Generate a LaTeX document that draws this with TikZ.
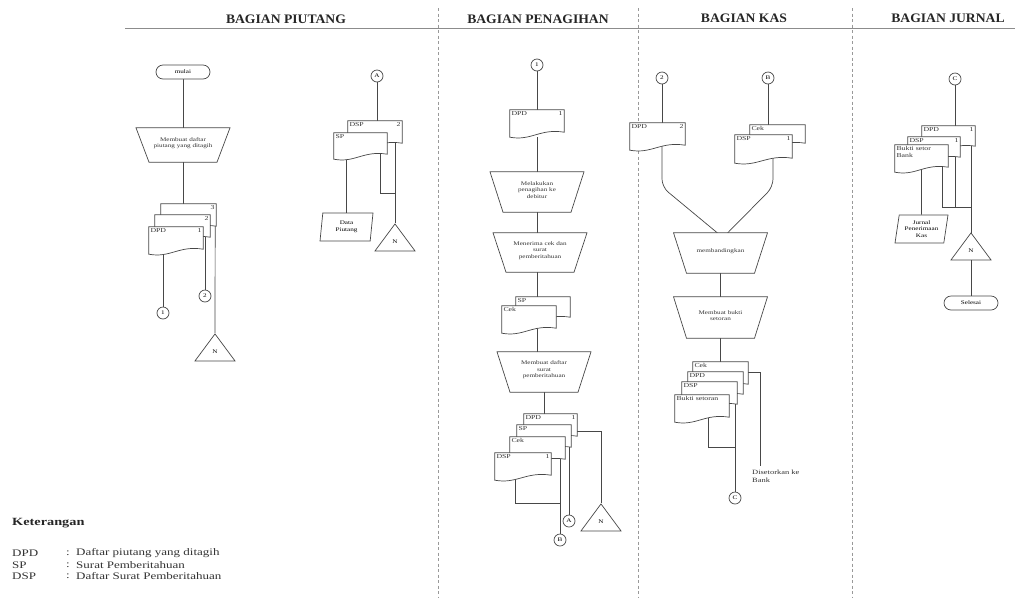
\documentclass[tikz,border=0pt]{standalone}
\usepackage{fontspec}
\setmainfont{Liberation Serif}[FakeStretch=1.3]
\newfontfamily\judulfont{Liberation Serif}[FakeStretch=1.05]
\usetikzlibrary{shapes.geometric}
\pgfdeclarelayer{bg}
\pgfsetlayers{bg,main}

\newcommand{\tf}{\fontsize{5.5}{6.5}\selectfont}
\newcommand{\df}{\fontsize{6}{6.5}\selectfont}

\tikzset{
  ln/.style={draw=black!72, line width=0.7pt},
  sep/.style={draw=black!40, dash pattern=on 3pt off 2.5pt, line width=0.6pt},
  judul/.style={font=\judulfont\bfseries\fontsize{13}{14}\selectfont, text=black!85},
  terminal/.style={ln, fill=white, rounded corners=7pt, minimum width=54, minimum height=14, inner sep=0pt, font=\tf},
  opbox/.style={draw=none, inner sep=0pt, minimum width=94},
  optext/.style={inner sep=0pt, align=center, font=\tf, text=black!80},
  data/.style={ln, fill=white, trapezium, trapezium left angle=76, trapezium right angle=104,
    trapezium stretches body, minimum width=53, minimum height=28, inner sep=0pt, align=center, font=\tf},
  arsip/.style={ln, fill=white, isosceles triangle, isosceles triangle stretches, shape border rotate=90,
    minimum width=40, minimum height=27, inner sep=0pt, font=\tf},
  konektor/.style={ln, fill=white, circle, minimum size=12, inner sep=0pt, font=\tf},
  docbox/.style={draw=none, inner sep=0pt},
  doctext/.style={inner sep=1.5pt, font=\df, align=left, text=black!80},
  ket/.style={anchor=west, inner sep=0pt, font=\fontsize{10}{11}\selectfont, text=black!80}
}

% dokumen: nama, posisi, lebar, tinggi, label, nomor
\newcommand{\dok}[6]{%
  \node[docbox, minimum width=#3, minimum height=#4] (#1) at (#2) {};
  \draw[ln, fill=white] (#1.south west) -- (#1.north west) -- (#1.north east) -- ([yshift=5]#1.south east)
    .. controls ([xshift=-0.45*#3, yshift=9]#1.south east) and ([xshift=0.4*#3, yshift=-4]#1.south west) .. (#1.south west) -- cycle;
  \node[doctext, anchor=north west] at (#1.north west) {#5};
  \node[doctext, anchor=north east] at (#1.north east) {#6};
}
% proses manual: nama, posisi, tinggi, teks
\newcommand{\operasi}[4]{%
  \node[opbox, minimum height=#3] (#1) at (#2) {};
  \draw[ln, fill=white] ([xshift=-47]#1.north) -- ([xshift=47]#1.north) -- ([xshift=34]#1.south) -- ([xshift=-34]#1.south) -- cycle;
  \node[optext] at ([yshift=2]#1.center) {#4};
}

\begin{document}
\begin{tikzpicture}[x=1pt, y=-1pt]
  \useasboundingbox (0,0) rectangle (1015,598);
  % Judul kolom
  \node[judul] (hpiutang) at (286,19) {BAGIAN PIUTANG};
  \node[judul] (htagih) at (538,19) {BAGIAN PENAGIHAN};
  \node[judul] (hkas) at (744,18) {BAGIAN KAS};
  \node[judul] (hjurnal) at (948,18) {BAGIAN JURNAL};
  \draw[draw=black!45, line width=0.7pt] (125,28) -- (1015,28);
  % Garis pemisah
  \foreach \gx in {438,638,852}
    \draw[sep] (\gx,8) -- (\gx,598);

  % Bagian piutang
  \node[terminal] (mulai) at (183,72) {mulai};
  \operasi{buatdpd}{183,145}{34}{Membuat daftar\\piutang yang ditagih}
  \dok{dpd3}{188.5,217.5}{55}{27}{}{3}
  \dok{dpd2}{182.5,228.5}{55}{27}{}{2}
  \dok{dpd1}{176,240.5}{54}{27}{DPD}{1}
  \node[konektor] (k1) at (163,313) {1};
  \node[konektor] (k2) at (205,296) {2};
  \node[arsip, anchor=apex] (arsip1) at (215,333) {N};
  \node[konektor] (kA) at (377,76) {A};
  \dok{dsp2}{375,134.5}{54}{27}{DSP}{2}
  \dok{sp1}{360.5,146}{53}{26}{SP}{}
  \node[data] (datapiutang) at (346.5,227) {Data\\Piutang};
  \node[arsip, anchor=apex] (arsip2) at (395,223) {N};

  % Bagian penagihan
  \node[konektor] (k1tagih) at (537,65) {1};
  \dok{dpdtagih}{537,123.5}{54}{27}{DPD}{1}
  \operasi{tagih}{537,192}{40}{Melakukan\\penagihan ke\\debitur}
  \operasi{terima}{540,252.5}{39}{Menerima cek dan\\surat\\pemberitahuan}
  \dok{spterima}{543,309.5}{54}{25}{SP}{}
  \dok{cekterima}{529,319.5}{54}{27}{Cek}{}
  \operasi{buatdsp}{544,372}{40}{Membuat daftar\\surat\\pemberitahuan}
  \dok{dpdp}{550.5,427.5}{53}{27}{DPD}{1}
  \dok{spp}{544,438.5}{54}{27}{SP}{}
  \dok{cekp}{537.5,450.5}{55}{27}{Cek}{}
  \dok{dspp}{523,466.5}{56}{27}{DSP}{1}
  \node[arsip, anchor=apex] (arsip3) at (601,503) {N};
  \node[konektor] (kA2) at (569,521) {A};
  \node[konektor] (kB) at (560,540) {B};

  % Bagian kas
  \node[konektor] (k2kas) at (662,78) {2};
  \node[konektor] (kBkas) at (768,78) {B};
  \dok{dpdkas}{657.5,136.5}{55}{27}{DPD}{2}
  \dok{cekkas}{777.5,136.5}{55}{23}{Cek}{}
  \dok{dspkas}{763.5,149}{57}{28}{DSP}{1}
  \coordinate (belok1) at (662,187);
  \coordinate (belok2) at (773,187);
  \operasi{banding}{720.5,253}{40}{membandingkan}
  \operasi{buatbukti}{720.5,317.5}{41}{Membuat bukti\\setoran}
  \dok{cekk}{720.5,375.5}{55}{27}{Cek}{}
  \dok{dpdk}{715.5,385.5}{55}{27}{DPD}{}
  \dok{dspk}{709.5,395.5}{55}{27}{DSP}{}
  \dok{bukti}{702,408.5}{54}{27}{Bukti setoran}{}
  \node[anchor=north west, inner sep=0pt, align=left, font=\fontsize{6.5}{8}\selectfont, text=black!80] (setorbank) at (752,470) {Disetorkan ke\\Bank};
  \node[konektor] (k3) at (735,498) {C};

  % Bagian jurnal
  \node[konektor] (kjur) at (955,79) {C};
  \dok{dpdj}{948.5,138.5}{53}{25}{DPD}{1}
  \dok{dspj}{934,149.5}{52}{25}{DSP}{1}
  \dok{buktij}{921.5,158.5}{53}{27}{Bukti setor\\Bank}{}
  \node[data] (jurnal) at (921.5,229) {Jurnal\\Penerimaan\\Kas};
  \node[arsip, anchor=apex] (arsip4) at (971,232) {N};
  \node[terminal] (selesai) at (971,303) {Selesai};

  % Keterangan
  \node[anchor=west, inner sep=0pt, font=\bfseries\fontsize{11}{12}\selectfont, text=black!85] (ket) at (12,523) {Keterangan};
  \foreach \sing/\arti [count=\i] in {DPD/Daftar piutang yang ditagih, SP/Surat Pemberitahuan, DSP/Daftar Surat Pemberitahuan}{
    \node[ket] (sing\i) at (12,542+11.5*\i) {\sing};
    \node[ket] at (66,542+11.5*\i) {:};
    \node[ket] (arti\i) at (76,542+11.5*\i) {\arti};
  }

  % Garis alir (di belakang simbol)
  \begin{pgfonlayer}{bg}
    \fill[white] (0,0) rectangle (1015,598);
    % piutang
    \draw[ln] (mulai) -- (buatdpd);
    \draw[ln] (buatdpd) -- (buatdpd |- dpd3);
    \draw[ln] (dpd1 -| k1) -- (k1);
    \draw[ln] (k2 |- dpd2) -- (k2);
    \draw[ln] ([xshift=-1]dpd3.east) -- (arsip1.apex);
    \draw[ln] (kA) -- (kA |- dsp2);
    \draw[ln] (datapiutang |- sp1) -- (datapiutang);
    \draw[ln] (arsip2.apex |- dsp2) -- (arsip2.apex);
    \draw[ln] ([xshift=-7]sp1.east) |- ([yshift=30]arsip2.apex);
    % penagihan
    \draw[ln] (k1tagih) -- (dpdtagih);
    \draw[ln] (dpdtagih) -- (tagih);
    \draw[ln] (tagih) -- (tagih |- buatdsp);
    \draw[ln] (buatdsp) -- (buatdsp |- dpdp);
    \draw[ln] ([yshift=-4]dpdp.east) -| (arsip3.apex);
    \draw[ln] (kA2 |- spp) -- (kA2);
    \draw[ln] (kB |- cekp) -- (kB);
    \draw[ln] ([xshift=-8]dspp.center) |- ([yshift=37]kB.center);
    % kas
    \draw[ln] (k2kas) -- (k2kas |- dpdkas);
    \draw[ln] (kBkas) -- (kBkas |- cekkas);
    \draw[ln, rounded corners=8] (dpdkas -| belok1) -- (belok1) -- ([xshift=-3,yshift=20]banding.center);
    \draw[ln, rounded corners=8] (dspkas -| belok2) -- (belok2) -- ([xshift=7,yshift=20]banding.center);
    \draw[ln] (banding) -- (buatbukti);
    \draw[ln] (buatbukti) -- (buatbukti |- cekk);
    \draw[ln] ([yshift=3]cekk.east) -| ([xshift=8,yshift=4]setorbank.north west);
    \draw[ln] (k3 |- dspk) -- (k3);
    \draw[ln] ([xshift=6]bukti.center) |- ([yshift=51]k3.center);
    % jurnal
    \draw[ln] (kjur) -- (kjur |- dpdj);
    \draw[ln] (jurnal |- buktij) -- (jurnal);
    \draw[ln] (arsip4.apex |- dpdj) -- (arsip4.apex);
    \draw[ln] ([xshift=20.5]buktij.center) |- ([yshift=25]arsip4.apex);
    \draw[ln] ([xshift=21]dspj.center) |- ([yshift=25]arsip4.apex);
    \draw[ln] (arsip4.apex) -- (arsip4.apex |- selesai);
  \end{pgfonlayer}
\end{tikzpicture}
\end{document}
